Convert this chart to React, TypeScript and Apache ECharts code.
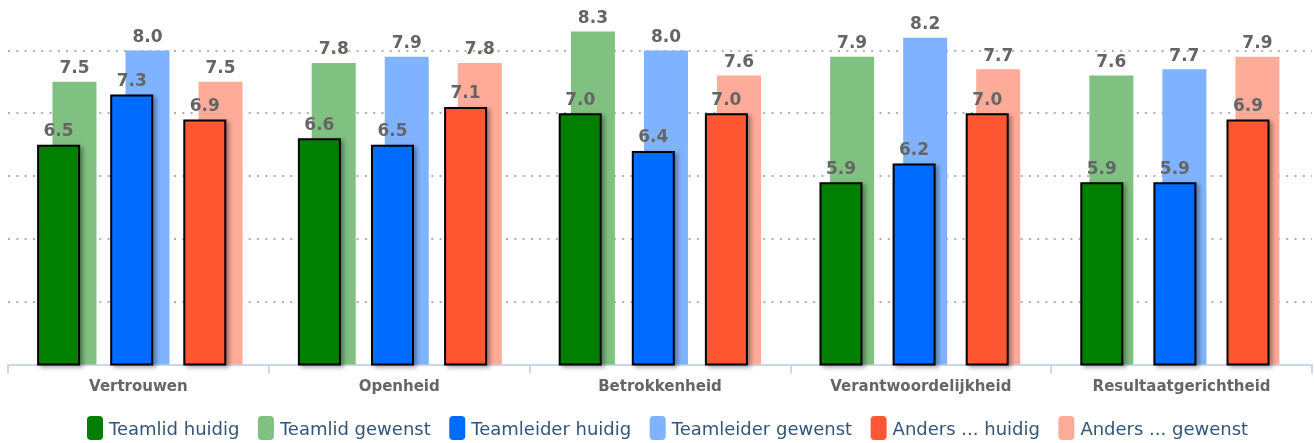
import React, { useEffect, useRef } from "react";
import * as echarts from "echarts";

const categories = ["Vertrouwen", "Openheid", "Betrokkenheid", "Verantwoordelijkheid", "Resultaatgerichtheid"];
const teamlidHuidig = [6.5, 6.6, 7.0, 5.9, 5.9];
const teamlidGewenst = [7.5, 7.8, 8.3, 7.9, 7.6];
const teamleiderHuidig = [7.3, 6.5, 6.4, 6.2, 5.9];
const teamleiderGewenst = [8.0, 7.9, 8.0, 8.2, 7.7];
const andersHuidig = [6.9, 7.1, 7.0, 7.0, 6.9];
const andersGewenst = [7.5, 7.8, 7.6, 7.7, 7.9];

const FONT = "'DejaVu Sans', sans-serif";

export default function App() {
  const ref = useRef<HTMLDivElement>(null);
  useEffect(() => {
    if (!ref.current) return;
    const chart = echarts.init(ref.current, null, { renderer: "svg" });
    const W = 1314;
    const left = 8;
    const right = 2;
    const top = 19;
    const bottom = 78.5;
    const width = W - left - right;
    const label = {
      show: true,
      position: "top",
      distance: 6,
      color: "#656565",
      fontWeight: "bold",
      fontSize: 17,
      fontFamily: FONT,
      formatter: (p: any) => Number(p.value).toFixed(1),
    };
    const huidig = (name: string, data: number[], color: string) => ({
      name,
      type: "bar",
      xAxisIndex: 1,
      yAxisIndex: 1,
      data,
      barWidth: 43,
      barGap: "70%",
      z: 4,
      itemStyle: {
        color,
        borderColor: "#000",
        borderWidth: 2,
        shadowColor: "rgba(0,0,0,0.35)",
        shadowBlur: 4,
        shadowOffsetX: 3,
        shadowOffsetY: 2,
      },
      label,
    });
    const gewenst = (name: string, data: number[], color: string) => ({
      name,
      type: "bar",
      xAxisIndex: 2,
      yAxisIndex: 2,
      data,
      barWidth: 44,
      barGap: "66%",
      z: 2,
      itemStyle: { color },
      label,
    });
    const hiddenY = (gi: number) => ({
      type: "value",
      gridIndex: gi,
      min: 3,
      max: 8.5,
      interval: 1,
      show: false,
      splitLine: { show: false },
    });
    const hiddenX = (gi: number) => ({
      type: "category",
      gridIndex: gi,
      data: categories,
      show: false,
    });
    chart.setOption({
      animation: false,
      grid: [
        { left, top, bottom, width },
        { left: left - 6.7, top, bottom, width },
        { left: left + 9.9, top, bottom, width },
      ],
      xAxis: [
        {
          type: "category",
          gridIndex: 0,
          data: categories,
          axisLine: { lineStyle: { color: "#ccd6eb", width: 2 } },
          axisTick: { show: true, length: 9, lineStyle: { color: "#ccd6eb", width: 2 } },
          axisLabel: {
            color: "#666",
            fontWeight: "bold",
            fontSize: 15,
            fontFamily: FONT,
            margin: 14,
          },
        },
        hiddenX(1),
        hiddenX(2),
      ],
      yAxis: [
        {
          type: "value",
          gridIndex: 0,
          min: 3,
          max: 8.5,
          interval: 1,
          axisLabel: { show: false },
          axisLine: { show: false },
          axisTick: { show: false },
          splitLine: {
            show: true,
            showMaxLine: false,
            lineStyle: { color: "#b0b0b0", width: 2, type: [2, 6.3] },
          },
        },
        hiddenY(1),
        hiddenY(2),
      ],
      legend: {
        top: 411,
        left: 82,
        icon: "roundRect",
        itemWidth: 16,
        itemHeight: 24,
        itemGap: 18.5,
        itemStyle: { borderWidth: 0, shadowBlur: 0, shadowOffsetX: 0, shadowOffsetY: 0 },
        textStyle: { color: "#335577", fontSize: 18, fontFamily: FONT, padding: [0, 0, 0, 1] },
        data: [
          "Teamlid huidig",
          "Teamlid gewenst",
          "Teamleider huidig",
          "Teamleider gewenst",
          "Anders ... huidig",
          "Anders ... gewenst",
        ],
      },
      series: [
        gewenst("Teamlid gewenst", teamlidGewenst, "#80c080"),
        gewenst("Teamleider gewenst", teamleiderGewenst, "#80b3ff"),
        gewenst("Anders ... gewenst", andersGewenst, "#ffab99"),
        huidig("Teamlid huidig", teamlidHuidig, "#007f00"),
        huidig("Teamleider huidig", teamleiderHuidig, "#006cff"),
        huidig("Anders ... huidig", andersHuidig, "#ff5733"),
      ],
    });
    return () => chart.dispose();
  }, []);
  return (
    <div
      ref={ref}
      style={{ position: "fixed", left: 0, top: 0, width: 1314, height: 443 }}
    />
  );
}
